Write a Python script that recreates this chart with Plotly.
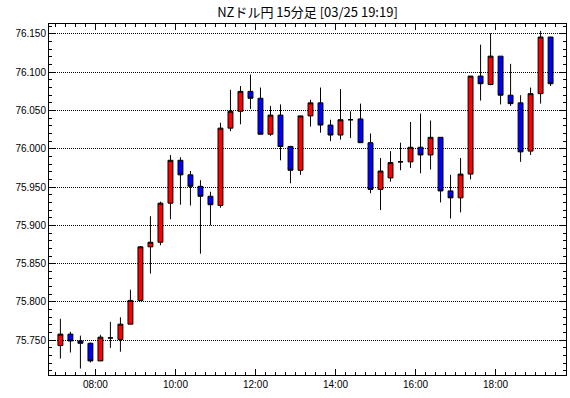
import pandas as pd
import plotly.graph_objects as go

# 15-minute candles, 07:00 .. 19:15 (period start times)
period_start = pd.date_range("2024-03-25 07:00", periods=50, freq="15min")

opens = [75.743, 75.758, 75.749, 75.746, 75.723, 75.753, 75.751, 75.771, 75.802, 75.872,
         75.878, 75.929, 75.985, 75.966, 75.951, 75.938, 75.926, 76.027, 76.049, 76.075,
         76.066, 76.019, 76.044, 76.003, 75.972, 76.043, 76.060, 76.031, 76.018, 76.038,
         76.039, 76.008, 75.947, 75.962, 75.983, 75.983, 76.002, 75.992, 76.015, 75.945,
         75.936, 75.967, 76.095, 76.084, 76.121, 76.070, 76.060, 75.997, 76.072, 76.146]
highs = [75.778, 75.761, 75.756, 75.747, 75.757, 75.774, 75.780, 75.816, 75.873, 75.912,
         75.931, 75.992, 75.989, 75.971, 75.959, 75.944, 76.034, 76.077, 76.082, 76.097,
         76.080, 76.056, 76.058, 76.004, 76.043, 76.064, 76.080, 76.038, 76.078, 76.049,
         76.059, 76.020, 75.988, 75.997, 76.008, 76.035, 76.046, 76.037, 76.015, 75.966,
         75.988, 76.095, 76.136, 76.151, 76.121, 76.111, 76.070, 76.080, 76.154, 76.146]
lows = [75.726, 75.734, 75.713, 75.721, 75.723, 75.740, 75.735, 75.771, 75.801, 75.837,
        75.874, 75.908, 75.927, 75.926, 75.863, 75.900, 75.923, 76.023, 76.032, 76.052,
        76.019, 76.017, 75.985, 75.955, 75.966, 76.029, 76.021, 76.010, 76.012, 76.014,
        76.008, 75.942, 75.920, 75.957, 75.972, 75.975, 75.968, 75.973, 75.930, 75.909,
        75.917, 75.960, 76.063, 76.083, 76.058, 76.056, 75.983, 75.992, 76.059, 76.082]
closes = [75.758, 75.749, 75.746, 75.723, 75.754, 75.753, 75.771, 75.802, 75.872, 75.878,
          75.929, 75.985, 75.966, 75.951, 75.938, 75.927, 76.027, 76.049, 76.075, 76.066,
          76.019, 76.044, 76.003, 75.972, 76.043, 76.060, 76.031, 76.018, 76.038, 76.038,
          76.008, 75.947, 75.971, 75.982, 75.983, 76.002, 75.992, 76.015, 75.945, 75.936,
          75.967, 76.095, 76.085, 76.121, 76.070, 76.059, 75.996, 76.072, 76.146, 76.085]

title_text = "NZドル円 15分足 [03/25 19:19]"

# each candle is drawn at the middle of its 15-minute period
x_mid = period_start + pd.Timedelta(minutes=7.5)

fig = go.Figure()
fig.add_trace(go.Candlestick(
    x=x_mid, open=opens, high=highs, low=lows, close=closes,
    increasing=dict(line=dict(color="black", width=1), fillcolor="#FF0000"),
    decreasing=dict(line=dict(color="black", width=1), fillcolor="#0000FF"),
    whiskerwidth=0, showlegend=False, hoverinfo="skip",
))

font = dict(family="Liberation Sans, Arial, sans-serif", size=10, color="black")

fig.update_layout(
    width=570, height=398,
    margin=dict(l=49, r=4, t=24, b=23, autoexpand=False),
    paper_bgcolor="white", plot_bgcolor="white",
    font=font,
    title=dict(text=title_text, x=0.5, xref="paper", xanchor="center",
               y=1 - 12 / 398, yref="container", yanchor="middle",
               font=dict(family="Noto Sans CJK JP", size=13, color="black")),
    boxgap=0.3,
)
fig.update_xaxes(
    type="date", automargin=False,
    range=["2024-03-25 06:50:24", "2024-03-25 19:45:36"],
    rangeslider=dict(visible=False),
    tick0="2024-03-25 00:00", dtick=2 * 3600 * 1000, tickformat="%H:%M",
    ticks="inside", ticklen=6, tickcolor="black", tickwidth=1,
    minor=dict(ticks="inside", ticklen=3, dtick=15 * 60 * 1000, tickcolor="black",
               showgrid=False),
    showline=True, linecolor="black", linewidth=1, mirror="ticks",
    showgrid=False, zeroline=False, tickfont=font,
)
fig.update_yaxes(
    automargin=False,
    range=[75.7046, 76.163],
    tick0=75.75, dtick=0.05, tickformat=".3f",
    ticks="inside", ticklen=6, tickcolor="black", tickwidth=1,
    minor=dict(ticks="inside", ticklen=3, dtick=0.01, tickcolor="black", showgrid=False),
    showline=True, linecolor="black", linewidth=1, mirror="ticks",
    showgrid=True, gridcolor="black", gridwidth=1, griddash="1px,1px",
    zeroline=False, tickfont=font,
)

fig.write_html(
    "out.html",
    config={"displayModeBar": False, "staticPlot": True},
    post_script="document.body.style.margin='0';document.body.style.overflow='hidden';",
)
